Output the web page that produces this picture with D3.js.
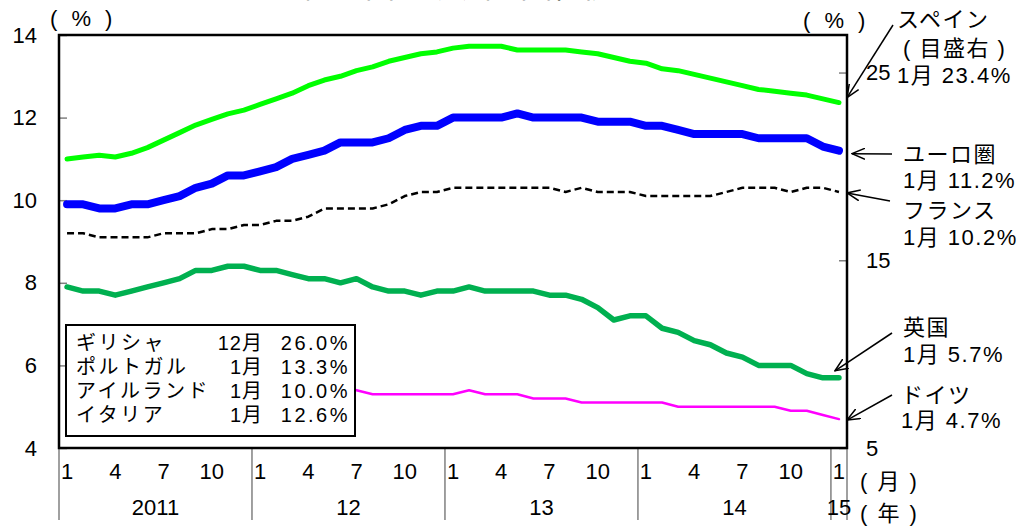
<!DOCTYPE html>
<html>
<head>
<meta charset="utf-8">
<script src="https://cdn.jsdelivr.net/npm/d3@7"></script>
<style>
  body { margin: 0; background: #fff; }
  svg { display: block; font-family: "Liberation Sans", "Noto Sans CJK JP", sans-serif; }
</style>
</head>
<body>
<div id="chart"></div>
<script>
// monthly categories, Jan 2011 .. Jan 2015
const months = [
  "2011/1","2011/2","2011/3","2011/4","2011/5","2011/6","2011/7","2011/8","2011/9","2011/10","2011/11","2011/12",
  "2012/1","2012/2","2012/3","2012/4","2012/5","2012/6","2012/7","2012/8","2012/9","2012/10","2012/11","2012/12",
  "2013/1","2013/2","2013/3","2013/4","2013/5","2013/6","2013/7","2013/8","2013/9","2013/10","2013/11","2013/12",
  "2014/1","2014/2","2014/3","2014/4","2014/5","2014/6","2014/7","2014/8","2014/9","2014/10","2014/11","2014/12",
  "2015/1"
];

// unemployment rates (%), left scale
const euro = [
  9.9, 9.9, 9.8, 9.8, 9.9, 9.9, 10.0, 10.1, 10.3, 10.4, 10.6, 10.6,
  10.7, 10.8, 11.0, 11.1, 11.2, 11.4, 11.4, 11.4, 11.5, 11.7, 11.8, 11.8,
  12.0, 12.0, 12.0, 12.0, 12.1, 12.0, 12.0, 12.0, 12.0, 11.9, 11.9, 11.9,
  11.8, 11.8, 11.7, 11.6, 11.6, 11.6, 11.6, 11.5, 11.5, 11.5, 11.5, 11.3,
  11.2
];
const france = [
  9.2, 9.2, 9.1, 9.1, 9.1, 9.1, 9.2, 9.2, 9.2, 9.3, 9.3, 9.4,
  9.4, 9.5, 9.5, 9.6, 9.8, 9.8, 9.8, 9.8, 9.9, 10.1, 10.2, 10.2,
  10.3, 10.3, 10.3, 10.3, 10.3, 10.3, 10.3, 10.2, 10.3, 10.2, 10.2, 10.2,
  10.1, 10.1, 10.1, 10.1, 10.1, 10.2, 10.3, 10.3, 10.3, 10.2, 10.3, 10.3,
  10.2
];
const uk = [
  7.9, 7.8, 7.8, 7.7, 7.8, 7.9, 8.0, 8.1, 8.3, 8.3, 8.4, 8.4,
  8.3, 8.3, 8.2, 8.1, 8.1, 8.0, 8.1, 7.9, 7.8, 7.8, 7.7, 7.8,
  7.8, 7.9, 7.8, 7.8, 7.8, 7.8, 7.7, 7.7, 7.6, 7.4, 7.1, 7.2,
  7.2, 6.9, 6.8, 6.6, 6.5, 6.3, 6.2, 6.0, 6.0, 6.0, 5.8, 5.7,
  5.7
];
const germany = [
  6.4, 6.3, 6.2, 6.1, 6.0, 6.0, 5.9, 5.9, 5.8, 5.7, 5.7, 5.6,
  5.6, 5.6, 5.5, 5.5, 5.5, 5.5, 5.4, 5.3, 5.3, 5.3, 5.3, 5.3,
  5.3, 5.4, 5.3, 5.3, 5.3, 5.2, 5.2, 5.2, 5.1, 5.1, 5.1, 5.1,
  5.1, 5.1, 5.0, 5.0, 5.0, 5.0, 5.0, 5.0, 5.0, 4.9, 4.9, 4.8,
  4.7
];
// right scale
const spain = [
  20.4, 20.5, 20.6, 20.5, 20.7, 21.0, 21.4, 21.8, 22.2, 22.5, 22.8, 23.0,
  23.3, 23.6, 23.9, 24.3, 24.6, 24.8, 25.1, 25.3, 25.6, 25.8, 26.0, 26.1,
  26.3, 26.4, 26.4, 26.4, 26.2, 26.2, 26.2, 26.2, 26.1, 26.0, 25.8, 25.6,
  25.5, 25.2, 25.1, 24.9, 24.7, 24.5, 24.3, 24.1, 24.0, 23.9, 23.8, 23.6,
  23.4
];

const leftTicks = [4, 6, 8, 10, 12, 14];
const rightTicks = [5, 15, 25];
const monthTicks = ["1", "4", "7", "10"];
const years = ["2011", "2012", "2013", "2014", "2015"];
const yearLabels = ["2011", "12", "13", "14", "15"];

const legendNames = ["ギリシャ", "ポルトガル", "アイルランド", "イタリア"];
const legendMonths = ["12月", "1月", "1月", "1月"];
const legendValues = ["26.0%", "13.3%", "10.0%", "12.6%"];

const noteNames = ["スペイン", "ユーロ圏", "フランス", "英国", "ドイツ"];
const noteValues = ["1月 23.4%", "1月 11.2%", "1月 10.2%", "1月 5.7%", "1月 4.7%"];

const W = 1023, H = 529;
const plot = { left: 59, top: 35, right: 847, bottom: 448 };
const cjk = '"Noto Sans CJK JP", sans-serif';

const svg = d3.select('#chart').append('svg')
  .attr('width', W)
  .attr('height', H);

const x = d3.scaleBand().domain(months).range([plot.left, plot.right]);
const cx = m => x(m) + x.bandwidth() / 2;
const yL = d3.scaleLinear().domain([4, 14]).range([plot.bottom, plot.top]);
const yR = d3.scaleLinear().domain([5, 27]).range([plot.bottom, plot.top]);

// title (mostly cut off at the top edge)
svg.append('text')
  .attr('x', 293).attr('y', -3)
  .attr('font-family', cjk).attr('font-size', 30).attr('letter-spacing', 6)
  .text('第１図：失業率推移');

// axes
svg.append('g')
  .attr('transform', `translate(${plot.left},0)`)
  .call(d3.axisLeft(yL).tickValues(leftTicks).tickSizeInner(-8).tickSizeOuter(0)
    .tickPadding(22).tickFormat(d3.format('d')))
  .attr('font-family', null).attr('font-size', 22)
  .call(g => g.select('.domain').remove())
  .call(g => g.selectAll('.tick line').attr('stroke', '#808080').attr('stroke-width', 1.5))
  .call(g => g.selectAll('.tick text').attr('fill', '#000'));

svg.append('g')
  .attr('transform', `translate(${plot.right},0)`)
  .call(d3.axisRight(yR).tickValues(rightTicks).tickSizeInner(-8).tickSizeOuter(0)
    .tickPadding(19).tickFormat(d3.format('d')))
  .attr('font-family', null).attr('font-size', 22)
  .call(g => g.select('.domain').remove())
  .call(g => g.selectAll('.tick line').attr('stroke', '#808080').attr('stroke-width', 1.5))
  .call(g => g.selectAll('.tick text').attr('fill', '#000'));

// unit labels
svg.append('text').attr('x', 50).attr('y', 26)
  .attr('font-size', 22).attr('letter-spacing', 4).text('( % )');
svg.append('text').attr('x', 803).attr('y', 28)
  .attr('font-size', 22).attr('letter-spacing', 4).text('( % )');

// x axis: month labels, year dividers, year labels
const xg = svg.append('g').attr('font-size', 22);

xg.selectAll('text.month')
  .data(months.filter(m => monthTicks.includes(m.split('/')[1])))
  .enter().append('text')
    .attr('class', 'month')
    .attr('x', d => cx(d))
    .attr('y', 479)
    .attr('text-anchor', 'middle')
    .text(d => d.split('/')[1]);

const yearStarts = years.map(yr => months.find(m => m.startsWith(yr)));
const dividers = yearStarts.map(m => x(m)).concat([plot.right]);

xg.selectAll('line.div')
  .data(dividers)
  .enter().append('line')
    .attr('class', 'div')
    .attr('x1', d => d).attr('x2', d => d)
    .attr('y1', plot.bottom).attr('y2', 520)
    .attr('stroke', '#808080').attr('stroke-width', 1.5);

xg.selectAll('text.year')
  .data(years)
  .enter().append('text')
    .attr('class', 'year')
    .attr('x', (yr) => {
      const ms = months.filter(m => m.startsWith(yr));
      return (x(ms[0]) + x(ms[ms.length - 1]) + x.bandwidth()) / 2;
    })
    .attr('y', 515)
    .attr('text-anchor', 'middle')
    .text((d, i) => yearLabels[i]);

svg.append('text').attr('x', 860).attr('y', 489)
  .attr('font-size', 22).attr('letter-spacing', 2).text('( 月 )');
svg.append('text').attr('x', 860).attr('y', 521)
  .attr('font-size', 22).attr('letter-spacing', 2).text('( 年 )');

// lines
const series = [
  { values: germany, scale: yL, color: '#ff00ff', width: 2.5 },
  { values: france, scale: yL, color: '#000000', width: 2.5, dash: '7,4' },
  { values: uk, scale: yL, color: '#00b050', width: 5.5 },
  { values: euro, scale: yL, color: '#0000ff', width: 8 },
  { values: spain, scale: yR, color: '#00ff00', width: 5 }
];

svg.append('g')
  .selectAll('path')
  .data(series)
  .enter().append('path')
    .attr('fill', 'none')
    .attr('stroke', d => d.color)
    .attr('stroke-width', d => d.width)
    .attr('stroke-dasharray', d => d.dash || null)
    .attr('stroke-linejoin', 'round')
    .attr('stroke-linecap', d => d.dash ? 'butt' : 'round')
    .attr('d', d => d3.line()
      .x((v, i) => cx(months[i]))
      .y(v => d.scale(v))(d.values));

// legend box for countries off the scale
const lg = svg.append('g');
lg.append('rect')
  .attr('x', 66).attr('y', 325).attr('width', 289).attr('height', 111)
  .attr('fill', '#fff').attr('stroke', '#000').attr('stroke-width', 2);
legendNames.forEach((name, i) => {
  const by = 350 + i * 24;
  lg.append('text').attr('x', 76).attr('y', by)
    .attr('font-family', cjk).attr('font-size', 20).attr('letter-spacing', 2.5).text(name);
  lg.append('text').attr('x', 263).attr('y', by).attr('text-anchor', 'end')
    .attr('font-size', 20).attr('letter-spacing', 1).text(legendMonths[i]);
  lg.append('text').attr('x', 350).attr('y', by).attr('text-anchor', 'end')
    .attr('font-size', 20).attr('letter-spacing', 2.5).text(legendValues[i]);
});

// frame
svg.append('rect')
  .attr('x', plot.left).attr('y', plot.top)
  .attr('width', plot.right - plot.left).attr('height', plot.bottom - plot.top)
  .attr('fill', 'none').attr('stroke', '#000').attr('stroke-width', 2.5);

// arrows and notes on the right
svg.append('defs').append('marker')
  .attr('id', 'arrow')
  .attr('viewBox', '0 -6 14 12')
  .attr('refX', 13).attr('refY', 0)
  .attr('markerWidth', 14).attr('markerHeight', 12)
  .attr('markerUnits', 'userSpaceOnUse')
  .attr('orient', 'auto')
  .append('path')
    .attr('d', 'M0,-5.5L13,0L0,5.5')
    .attr('fill', 'none').attr('stroke', '#000').attr('stroke-width', 1.5);

const last = months.length - 1;
const arrows = [
  [893, 25, plot.right, yR(spain[last]) - 5],
  [892, 154, plot.right + 5, yL(euro[last]) + 3],
  [890, 201, plot.right, yL(france[last]) + 1],
  [892, 333, cx(months[last]) - 4, yL(uk[last]) - 7],
  [892, 395, plot.right, yL(germany[last]) + 1]
];
svg.append('g')
  .selectAll('line')
  .data(arrows)
  .enter().append('line')
    .attr('x1', d => d[0]).attr('y1', d => d[1])
    .attr('x2', d => d[2]).attr('y2', d => d[3])
    .attr('stroke', '#000').attr('stroke-width', 1.5)
    .attr('marker-end', 'url(#arrow)');

const noteNameY = [27, 162, 218, 335, 403];
const noteValueY = [83, 188, 245, 362, 428];
const noteX = [897, 903, 903, 903, 901];
const ng = svg.append('g').attr('font-size', 22);
noteNames.forEach((name, i) => {
  ng.append('text').attr('x', noteX[i]).attr('y', noteNameY[i])
    .attr('font-family', cjk).attr('letter-spacing', 1.5).text(name);
  ng.append('text').attr('x', noteX[i]).attr('y', noteValueY[i])
    .attr('letter-spacing', 1.5).text(noteValues[i]);
});
ng.append('text').attr('x', 903).attr('y', 56)
  .attr('letter-spacing', 1.5).text('( 目盛右 )');
</script>
</body>
</html>
